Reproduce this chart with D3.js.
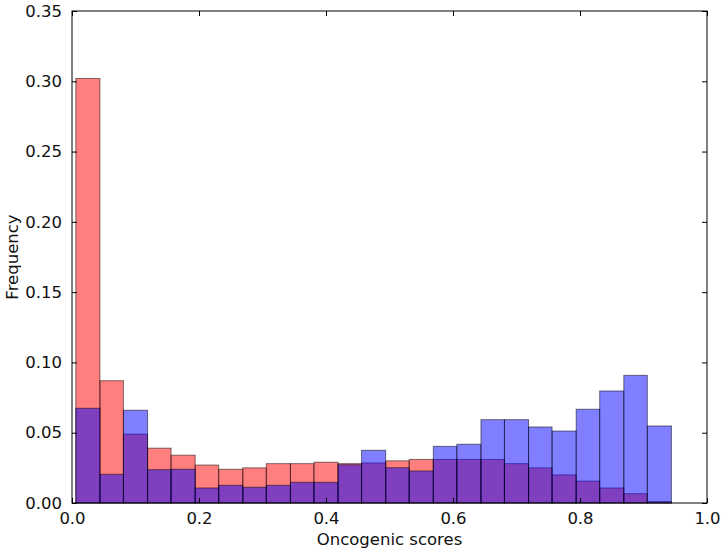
<!DOCTYPE html>
<meta charset="utf-8">
<script src="https://d3js.org/d3.v7.min.js"></script>
<style>
  body { margin: 0; background: #fff; }
  text { font-family: "DejaVu Sans", sans-serif; fill: #111; }
</style>
<div id="my_dataviz"></div>
<script>

// bin edges (25 bins)
var binEdges = [0.006, 0.044, 0.081, 0.119, 0.156, 0.194, 0.231, 0.269, 0.306, 0.344,
                0.381, 0.419, 0.456, 0.494, 0.531, 0.569, 0.606, 0.644, 0.681, 0.719,
                0.756, 0.794, 0.831, 0.869, 0.906, 0.944];

// frequencies of each series per bin
var redFreq  = [0.302, 0.087, 0.049, 0.039, 0.034, 0.027, 0.024, 0.025, 0.028, 0.028,
                0.029, 0.028, 0.0285, 0.030, 0.031, 0.031, 0.031, 0.031, 0.028, 0.025,
                0.020, 0.0156, 0.0107, 0.0066, 0.001];
var blueFreq = [0.0674, 0.0204, 0.066, 0.0237, 0.024, 0.0107, 0.0126, 0.0112, 0.0126, 0.0147,
                0.0147, 0.0272, 0.0375, 0.0251, 0.0228, 0.0403, 0.0418, 0.0593, 0.0593, 0.0541,
                0.0512, 0.0667, 0.0797, 0.0908, 0.0548];

var xTicks = [0.0, 0.2, 0.4, 0.6, 0.8, 1.0];
var yTicks = [0.00, 0.05, 0.10, 0.15, 0.20, 0.25, 0.30, 0.35];

// set the dimensions and margins of the graph
var margin = {top: 11, right: 19, bottom: 51, left: 72},
    width = 726 - margin.left - margin.right,
    height = 554 - margin.top - margin.bottom;

var svg = d3.select("#my_dataviz")
  .append("svg")
    .attr("width", 726)
    .attr("height", 554)
  .append("g")
    .attr("transform", "translate(" + margin.left + "," + margin.top + ")");

var x = d3.scaleLinear().domain([0, 1]).range([0, width]);
var y = d3.scaleLinear().domain([0, 0.35]).range([height, 0]);

function bins(values) {
  return values.map(function(v, i) { return {x0: binEdges[i], x1: binEdges[i + 1], v: v}; });
}

function drawBars(data, color) {
  svg.append("g").selectAll("rect")
    .data(data)
    .enter()
    .append("rect")
      .attr("x", function(d) { return x(d.x0); })
      .attr("y", function(d) { return y(d.v); })
      .attr("width", function(d) { return x(d.x1) - x(d.x0); })
      .attr("height", function(d) { return y(0) - y(d.v); })
      .style("fill", color)
      .style("fill-opacity", 0.5)
      .style("stroke", "#000")
      .style("stroke-opacity", 0.5)
      .style("stroke-width", 1);
}

drawBars(bins(redFreq), "#ff0000");
drawBars(bins(blueFreq), "#0000ff");

// axes with inward ticks on all four sides
var tl = 5;
svg.append("g")
  .attr("transform", "translate(0," + height + ")")
  .call(d3.axisBottom(x).tickValues(xTicks).tickSizeInner(-tl).tickSizeOuter(0).tickPadding(9).tickFormat(d3.format(".1f")));
svg.append("g")
  .call(d3.axisTop(x).tickValues(xTicks).tickSizeInner(-tl).tickSizeOuter(0).tickFormat(""));
svg.append("g")
  .call(d3.axisLeft(y).tickValues(yTicks).tickSizeInner(-tl).tickSizeOuter(0).tickPadding(10).tickFormat(d3.format(".2f")));
svg.append("g")
  .attr("transform", "translate(" + width + ",0)")
  .call(d3.axisRight(y).tickValues(yTicks).tickSizeInner(-tl).tickSizeOuter(0).tickFormat(""));

svg.selectAll(".domain").remove();
svg.selectAll(".tick line").style("stroke", "#000");
svg.selectAll(".tick text").style("font-size", "16.5px").style("fill", "#111");

// frame
svg.append("rect")
  .attr("x", 0).attr("y", 0)
  .attr("width", width).attr("height", height)
  .style("fill", "none")
  .style("stroke", "#000")
  .style("stroke-width", 1);

// axis labels
svg.append("text")
  .attr("x", width / 2)
  .attr("y", height + 42)
  .style("text-anchor", "middle")
  .style("font-size", "16.5px")
  .text("Oncogenic scores");

svg.append("text")
  .attr("transform", "rotate(-90)")
  .attr("x", -height / 2)
  .attr("y", -54)
  .style("text-anchor", "middle")
  .style("font-size", "16.5px")
  .text("Frequency");

</script>
